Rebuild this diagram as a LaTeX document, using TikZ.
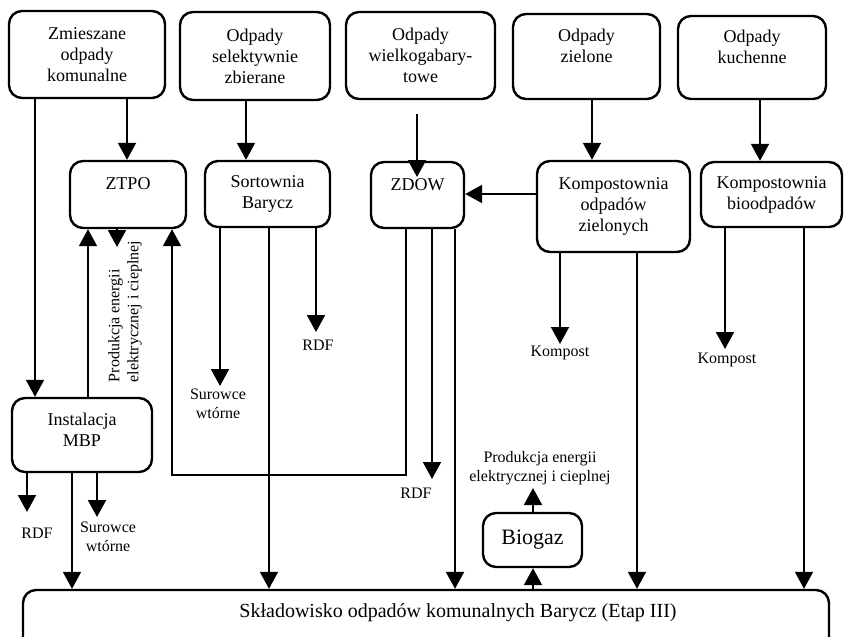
\documentclass[tikz,border=0pt]{standalone}
\usepackage{fontspec}
\setmainfont{Liberation Serif}
\usetikzlibrary{arrows.meta}
\begin{document}
\begin{tikzpicture}[x=1pt,y=-1pt,
  box/.style={draw, line width=2.4pt, rounded corners=13pt, inner sep=0pt,
    align=center, font=\fontsize{18}{21}\selectfont},
  txt/.style={inner sep=0pt, align=center, font=\fontsize{18}{21}\selectfont},
  lbl/.style={inner sep=0pt, align=center, font=\fontsize{16}{19}\selectfont},
  arr/.style={line width=2pt, -{Triangle[width=18pt,length=17pt]}}]
\clip (0,0) rectangle (844,637);

% sources of waste
\node[box, minimum width=156pt, minimum height=87pt] (zm)   at (87,54.5)   {Zmieszane\\odpady\\komunalne};
\node[box, minimum width=150pt, minimum height=88pt] (sel)  at (255,56)    {Odpady\\selektywnie\\zbierane};
\node[box, minimum width=149pt, minimum height=87pt] (wiel) at (420.5,55.5) {Odpady\\wielkogabary-\\towe};
\node[box, minimum width=147pt, minimum height=85pt] (ziel) at (586.5,56.5) {Odpady\\zielone\\~};
\node[box, minimum width=148pt, minimum height=83pt] (kuch) at (752,57.5)   {Odpady\\kuchenne\\~};

% processing plants
\node[box, minimum width=116pt, minimum height=67pt] (ztpo) at (128,194.5)   {ZTPO\\~};
\node[box, minimum width=125pt, minimum height=66pt] (sort) at (267.5,194)   {Sortownia\\Barycz};
\node[box, minimum width=93pt,  minimum height=66pt] (zdow) at (417.5,195)   {ZDOW\\~};
\node[box, minimum width=153pt, minimum height=91pt] (kz)   at (613.5,206.5) {Kompostownia\\odpadów\\zielonych};
\node[box, minimum width=141pt, minimum height=65pt] (kb)   at (771.5,194.5) {Kompostownia\\bioodpadów};
\node[box, minimum width=140pt, minimum height=74pt] (mbp)  at (82,435) {};
\node[txt] (mbpt) at (82,430) {Instalacja\\MBP};
\node[box, minimum width=99pt, minimum height=54pt, font=\fontsize{22}{26}\selectfont] (bio) at (532.5,540) {Biogaz};

% landfill
\node[box, minimum width=806pt, minimum height=90pt] (skl) at (426,635) {};
\node[txt, font=\fontsize{20}{24}\selectfont] (sklt) at (458,613) {Składowisko odpadów komunalnych Barycz (Etap III)};

% products
\node[lbl] (sur1)  at (218,404)   {Surowce\\wtórne};
\node[lbl] (rdf1)  at (318,345)   {RDF};
\node[lbl] (rdf2)  at (416,493)   {RDF};
\node[lbl] (komp1) at (560,353)   {Kompost};
\node[lbl] (komp2) at (727,360)   {Kompost};
\node[lbl] (rdf3)  at (37,533)    {RDF};
\node[lbl] (sur2)  at (108,536.5) {Surowce\\wtórne};
\node[lbl] (prod1) at (540,468)   {Produkcja energii\\elektrycznej i cieplnej};
\node[lbl, align=left, rotate=90] (prod2) at (125,311.5) {Produkcja energii\\elektrycznej i cieplnej};

% vertical guides for the connectors
\foreach \gx in {27,35,72,88,97,117,127,172,220,246,269,316,406,432,455,533,560,592,637,725,760,804}
  \coordinate (g\gx) at (\gx,0);
\coordinate (y194) at (0,194);
\coordinate (y475) at (0,475);

% free arrow ends
\coordinate (wz0)   at (417,114);
\coordinate (wz1)   at (417,177);
\coordinate (eztpo) at (117,247);
\coordinate (esur1) at (220,386);
\coordinate (erdf1) at (316,332);
\coordinate (erdf2) at (432,479);
\coordinate (ekom1) at (560,344);
\coordinate (ekom2) at (725,349);
\coordinate (erdf3) at (27,512);
\coordinate (esur2) at (97,517);
\coordinate (eprod) at (533,488);

% connectors
\draw[arr] (g127 |- zm.south) -- (g127 |- ztpo.north);
\draw[arr] (g35 |- zm.south) -- (g35 |- mbp.north);
\draw[arr] (g246 |- sel.south) -- (g246 |- sort.north);
\draw[arr] (wz0) -- (wz1);
\draw[arr] (g592 |- ziel.south) -- (g592 |- kz.north);
\draw[arr] (g760 |- kuch.south) -- (g760 |- kb.north);
\draw[arr] (kz.west |- y194) -- (zdow.east |- y194);

\draw[arr] (g88 |- mbp.north) -- (g88 |- ztpo.south);
\draw[arr] (g117 |- ztpo.south) -- (eztpo);
\draw[arr] (g406 |- zdow.south) -- (g406 |- y475) -| (g172 |- ztpo.south);

\draw[arr] (g220 |- sort.south) -- (esur1);
\draw[arr] (g269 |- sort.south) -- (g269 |- skl.north);
\draw[arr] (g316 |- sort.south) -- (erdf1);
\draw[arr] (g432 |- zdow.south) -- (erdf2);
\draw[arr] (g455 |- zdow.south) -- (g455 |- skl.north);
\draw[arr] (g560 |- kz.south) -- (ekom1);
\draw[arr] (g637 |- kz.south) -- (g637 |- skl.north);
\draw[arr] (g725 |- kb.south) -- (ekom2);
\draw[arr] (g804 |- kb.south) -- (g804 |- skl.north);

\draw[arr] (g27 |- mbp.south) -- (erdf3);
\draw[arr] (g72 |- mbp.south) -- (g72 |- skl.north);
\draw[arr] (g97 |- mbp.south) -- (esur2);

\draw[arr] (g533 |- skl.north) -- (g533 |- bio.south);
\draw[arr] (g533 |- bio.north) -- (eprod);
\end{tikzpicture}
\end{document}
